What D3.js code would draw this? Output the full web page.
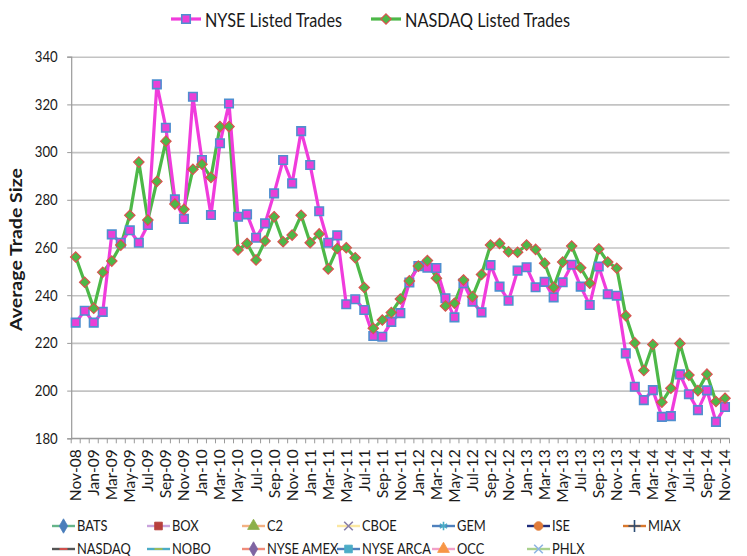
<!DOCTYPE html>
<html><head><meta charset="utf-8">
<script src="https://cdn.jsdelivr.net/npm/d3@7"></script>
<style>
body{margin:0;background:#fff}
svg{display:block;font-family:Lato,"Liberation Sans",Arial,sans-serif}
</style>
</head><body>
<svg id="chart" width="747" height="556"></svg>
<script>
// ---------- data ----------
const months = ["Nov-08","Dec-08","Jan-09","Feb-09","Mar-09","Apr-09","May-09","Jun-09","Jul-09","Aug-09","Sep-09","Oct-09",
"Nov-09","Dec-09","Jan-10","Feb-10","Mar-10","Apr-10","May-10","Jun-10","Jul-10","Aug-10","Sep-10","Oct-10",
"Nov-10","Dec-10","Jan-11","Feb-11","Mar-11","Apr-11","May-11","Jun-11","Jul-11","Aug-11","Sep-11","Oct-11",
"Nov-11","Dec-11","Jan-12","Feb-12","Mar-12","Apr-12","May-12","Jun-12","Jul-12","Aug-12","Sep-12","Oct-12",
"Nov-12","Dec-12","Jan-13","Feb-13","Mar-13","Apr-13","May-13","Jun-13","Jul-13","Aug-13","Sep-13","Oct-13",
"Nov-13","Dec-13","Jan-14","Feb-14","Mar-14","Apr-14","May-14","Jun-14","Jul-14","Aug-14","Sep-14","Oct-14","Nov-14"];

const nyseTrades = [228.5,233.5,228.5,233,265.5,262,267.2,262,269.4,328.4,310.2,280.2,
272,323.2,296.7,273.6,303.7,320.4,272.9,273.9,264.1,270.1,282.7,296.7,
286.9,308.8,294.6,275.2,262,265.1,236.2,238.3,233.8,222.9,222.6,228.8,
232.5,245.3,252.2,251.5,251.4,238.7,230.7,245,237.3,232.8,252.6,243.6,
237.7,250.3,251.7,243.3,245.6,239.1,245.4,252.8,243.6,235.9,252,240.4,
239.8,215.6,201.6,196,200.2,189,189.3,206.8,198.5,191.8,200.1,186.9,193.1];

const nasdaqTrades = [256,245.4,234.5,249.6,254.3,261,273.5,295.8,271.5,287.7,304.6,278.2,
276,292.8,294.9,289.4,310.7,310.7,259,261.7,254.8,262.7,272.9,262.4,
265.2,273.5,262,265.7,251,259.6,259.9,255.7,243.2,226.1,229.6,232.7,
238.4,246,252.2,254.5,247.1,235.5,236.6,246.4,239.4,248.7,261,261.7,
258.2,258,261,259.2,253.4,243.3,253.9,260.6,251.5,245,259.4,253.9,
251.3,231.4,220,208.4,219.3,195.1,201,219.8,206.5,200,206.9,195.4,196.8];

const yTicks = [180,200,220,240,260,280,300,320,340];
const seriesNames = ["NYSE Listed Trades","NASDAQ Listed Trades"];
const otherVenues = ["BATS","BOX","C2","CBOE","GEM","ISE","MIAX","NASDAQ","NOBO","NYSE AMEX","NYSE ARCA","OCC","PHLX"];
const yTitle = "Average Trade Size";

// ---------- styles ----------
const nyseStyle = {line:"#f03cdc", fill:"#ea3fd6", stroke:"#4f8fd0"};
const nasdaqStyle = {line:"#4db848", fill:"#4db848", stroke:"#d9534f"};
const venueStyles = [
  {line:"#66b58a", mark:"#4a7ebb", sym:"diamond"},
  {line:"#c9a3dc", mark:"#b8403d", sym:"square"},
  {line:"#f4b183", mark:"#8db04a", sym:"triangle"},
  {line:"#fbe7a1", mark:"#8a7fa8", sym:"x"},
  {line:"#4f81bd", mark:"#4bacc6", sym:"star"},
  {line:"#1f2d7b", mark:"#e07b39", sym:"circle"},
  {line:"#d9782c", mark:"#2c4d75", sym:"plus"},
  {line:"#555555", mark:"#d0504d", sym:"dash"},
  {line:"#4bacc6", mark:"#9bbb59", sym:"dash"},
  {line:"#f08c7a", mark:"#7f64a2", sym:"diamond"},
  {line:"#4f81bd", mark:"#4bacc6", sym:"square"},
  {line:"#f2a0c8", mark:"#f79646", sym:"triangle"},
  {line:"#a9d18e", mark:"#8eb4e3", sym:"x"}
];

// ---------- layout ----------
const svg = d3.select("#chart");
const plot = {left:71.2, right:729.5, top:56.7, bottom:438.3};

const x = d3.scaleBand().domain(months).range([plot.left, plot.right]).padding(0);
const cx = d => x(d) + x.bandwidth()/2;
const y = d3.scaleLinear().domain([180,340]).range([plot.bottom, plot.top]);

// gridlines
svg.append("g")
  .attr("transform",`translate(${plot.left},0)`)
  .call(d3.axisLeft(y).tickValues(yTicks).tickSize(-(plot.right-plot.left)).tickFormat(""))
  .call(g=>g.select(".domain").remove())
  .call(g=>g.selectAll("line").attr("stroke","#c3c3c3").attr("stroke-width",1.6));

// y axis
svg.append("g")
  .attr("transform",`translate(${plot.left},0)`)
  .call(d3.axisLeft(y).tickValues(yTicks).tickSize(4).tickPadding(9))
  .call(g=>g.select(".domain").attr("stroke","#9a9a9a").attr("stroke-width",1.2))
  .call(g=>g.selectAll(".tick line").attr("stroke","#9a9a9a"))
  .call(g=>g.selectAll("text").attr("font-size",15).attr("fill","#1a1a1a").attr("font-family","Lato,sans-serif")
    .attr("x",-13.5/0.88).attr("transform","scale(0.88,1)"));

// x axis: line + minor ticks at category boundaries
const xAxisG = svg.append("g");
xAxisG.append("line").attr("x1",plot.left).attr("x2",plot.right)
  .attr("y1",plot.bottom).attr("y2",plot.bottom).attr("stroke","#9a9a9a").attr("stroke-width",1.2);
const boundaries = months.map(m=>x(m)).concat([x(months[months.length-1])+x.bandwidth()]);
xAxisG.selectAll("line.tk").data(boundaries).join("line").attr("class","tk")
  .attr("x1",d=>d).attr("x2",d=>d).attr("y1",plot.bottom).attr("y2",plot.bottom+5)
  .attr("stroke","#9a9a9a").attr("stroke-width",1);

// x labels every 2 months
svg.append("g")
  .attr("transform",`translate(0,${plot.bottom})`)
  .call(d3.axisBottom(x).tickValues(months.filter((m,i)=>i%2===0)).tickSize(0).tickPadding(0))
  .call(g=>g.select(".domain").remove())
  .call(g=>g.selectAll("text")
    .attr("font-size",15.5).attr("fill","#1a1a1a").attr("font-family","Lato,sans-serif")
    .attr("text-anchor","end").attr("dy","0.35em")
    .attr("transform","translate(0,11) rotate(-90)").attr("x",0).attr("y",0));

// y title
svg.append("text")
  .attr("transform",`translate(22,${(plot.top+plot.bottom)/2 + 2}) rotate(-90)`)
  .attr("text-anchor","middle").attr("font-weight","bold").attr("font-size",17)
  .attr("fill","#1a1a1a").attr("textLength",163).attr("lengthAdjust","spacingAndGlyphs")
  .text(yTitle);

// lines
const lineGen = d3.line().x((d,i)=>cx(months[i])).y(d=>y(d));
svg.append("path").datum(nasdaqTrades).attr("d",lineGen)
  .attr("fill","none").attr("stroke",nasdaqStyle.line).attr("stroke-width",3.2).attr("stroke-linejoin","round");
svg.append("path").datum(nyseTrades).attr("d",lineGen)
  .attr("fill","none").attr("stroke",nyseStyle.line).attr("stroke-width",3.2).attr("stroke-linejoin","round");

const sq = d3.symbol().type(d3.symbolSquare).size(72)();
const dia = "M0,-5.2L5.2,0L0,5.2L-5.2,0Z";

svg.append("g").selectAll("path").data(nyseTrades).join("path")
  .attr("d",sq).attr("transform",(d,i)=>`translate(${cx(months[i])},${y(d)})`)
  .attr("fill",nyseStyle.fill).attr("stroke",nyseStyle.stroke).attr("stroke-width",1.6);
svg.append("g").selectAll("path").data(nasdaqTrades).join("path")
  .attr("d",dia).attr("transform",(d,i)=>`translate(${cx(months[i])},${y(d)})`)
  .attr("fill",nasdaqStyle.fill).attr("stroke",nasdaqStyle.stroke).attr("stroke-width",1.2);

// top legend
const topLeg = [
  {name:seriesNames[0], x0:171, st:nyseStyle, shape:sq, len:137},
  {name:seriesNames[1], x0:371, st:nasdaqStyle, shape:dia, len:165}
];
topLeg.forEach(L=>{
  const g = svg.append("g");
  g.append("line").attr("x1",L.x0).attr("x2",L.x0+30).attr("y1",19).attr("y2",19)
    .attr("stroke",L.st.line).attr("stroke-width",3.2);
  g.append("path").attr("d",L.shape).attr("transform",`translate(${L.x0+15},19)`)
    .attr("fill",L.st.fill).attr("stroke",L.st.stroke).attr("stroke-width",L.shape===sq?1.6:1.2);
  g.append("text").attr("x",L.x0+34).attr("y",26.5).attr("font-size",19).attr("fill","#1a1a1a")
    .attr("textLength",L.len).attr("lengthAdjust","spacingAndGlyphs").text(L.name);
});

// bottom legend
const colX = [52,147,242,337,432,527,623];
const rowY = [526,549];
function marker(sel, sym, color){
  const s = {diamond:d3.symbolDiamond, square:d3.symbolSquare, triangle:d3.symbolTriangle,
             circle:d3.symbolCircle, star:d3.symbolAsterisk, x:d3.symbolX, plus:d3.symbolPlus};
  if(sym==="dash"){
    sel.append("line").attr("x1",-4).attr("x2",4).attr("y1",0).attr("y2",0).attr("stroke",color).attr("stroke-width",2);
    return;
  }
  const t = s[sym];
  const strokeOnly = (sym==="x"||sym==="plus"||sym==="star");
  sel.append("path").attr("d",d3.symbol().type(t).size(strokeOnly?50:60)())
    .attr("fill",strokeOnly?"none":color).attr("stroke",color).attr("stroke-width",strokeOnly?1.6:0.8);
}
otherVenues.forEach((v,i)=>{
  const col = i<7 ? i : i-7, row = i<7 ? 0 : 1;
  const x0 = colX[col], y0 = rowY[row];
  const st = venueStyles[i];
  const g = svg.append("g");
  g.append("line").attr("x1",x0).attr("x2",x0+23).attr("y1",y0).attr("y2",y0)
    .attr("stroke",st.line).attr("stroke-width",2.4);
  marker(g.append("g").attr("transform",`translate(${x0+11.5},${y0})`), st.sym, st.mark);
  g.append("g").attr("transform",`translate(${x0+25},${y0+5}) scale(0.86,1)`)
    .append("text").attr("font-size",15).attr("fill","#1a1a1a").text(v);
});
</script>
</body></html>
